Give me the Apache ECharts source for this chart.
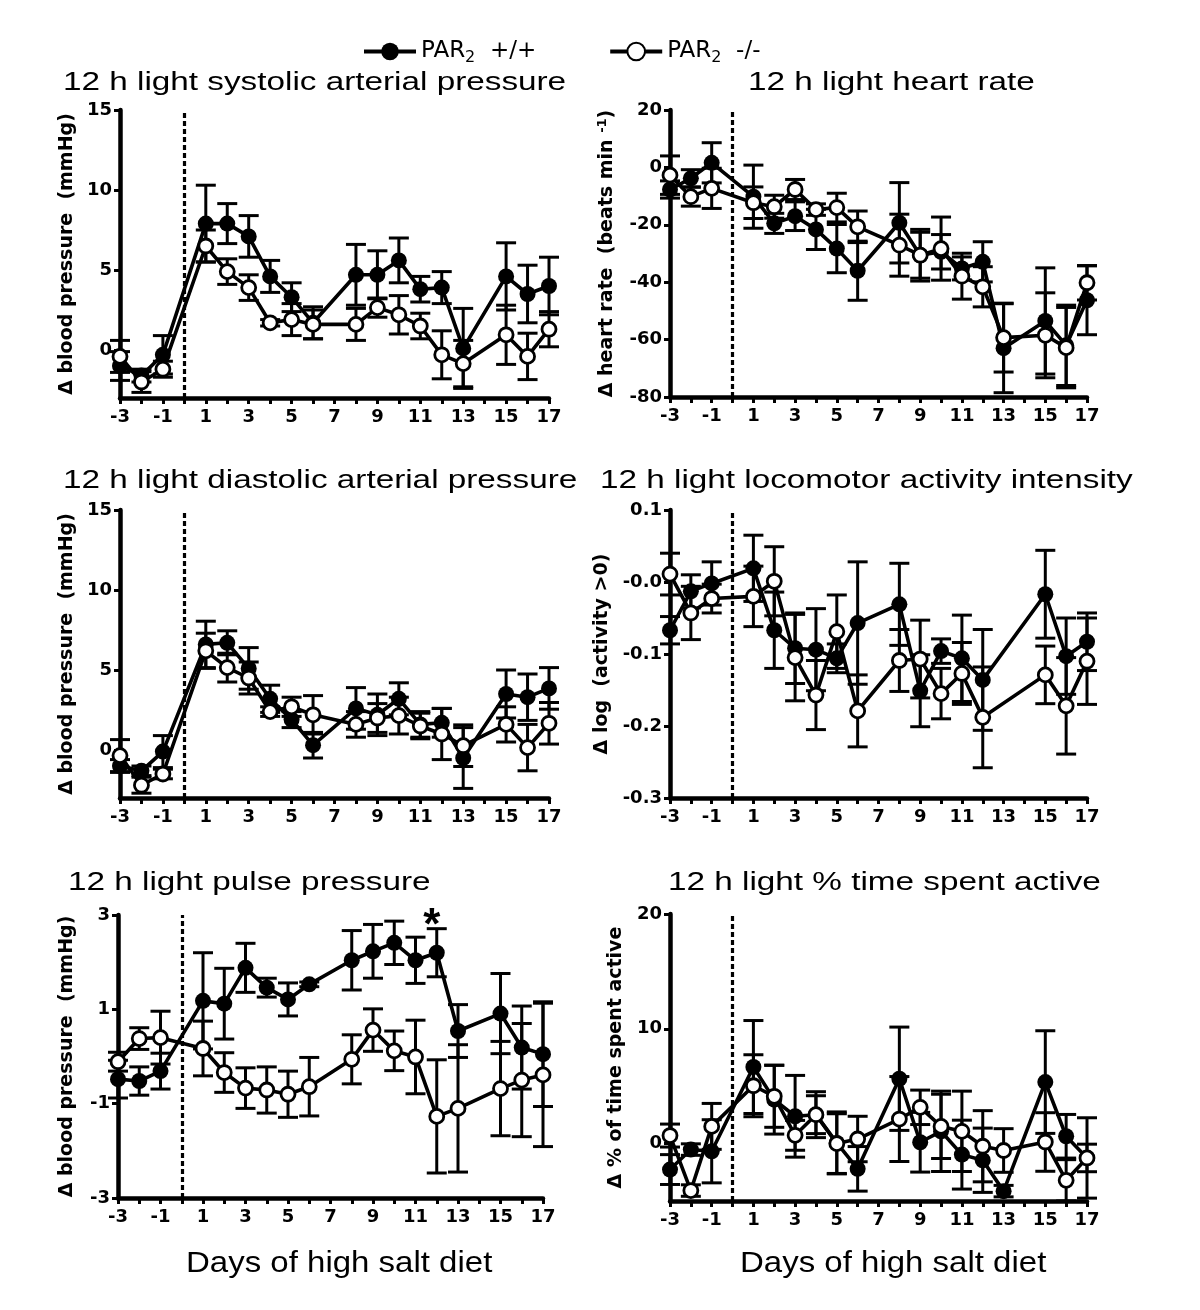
<!DOCTYPE html>
<html><head><meta charset="utf-8">
<script src="https://cdn.jsdelivr.net/npm/echarts@6/dist/echarts.min.js"></script>
<style>html,body{margin:0;padding:0;background:#fff}#c{width:1200px;height:1310px}</style>
</head><body><div id="c"></div>
<script>
// ---------- DATA ----------
const days = [-3,-2,-1,1,2,3,4,5,6,8,9,10,11,12,13,15,16,17];
const xTickStart = -3, xTickEnd = 17;

const sysWT    = [-1.0,-1.6,-0.3,7.9,7.9,7.1,4.6,3.3,1.7,4.7,4.7,5.6,3.8,3.9,0.1,4.6,3.5,4.0];
const sysWTerr = [0.9,0.4,1.2,2.4,1.25,1.3,1.0,0.9,1.0,1.9,1.5,1.4,0.8,1.0,2.5,2.1,1.8,1.8];
const sysKO    = [-0.4,-2.0,-1.2,6.5,4.9,3.9,1.7,1.9,1.6,1.6,2.65,2.2,1.5,-0.3,-0.85,0.95,-0.4,1.3];
const sysKOerr = [1.0,0.65,0.5,1.0,0.8,0.8,0.2,1.0,0.9,1.0,0.6,1.2,0.8,1.5,1.45,1.85,1.45,1.1];

const hrWT    = [-7.7,-3.8,1.6,-10.2,-19.5,-17,-21.6,-28.3,-36,-19.3,-30.6,-29.4,-35.2,-32.9,-63,-53.5,-62,-46.3];
const hrWTerr = [3,3,7,11,3.5,5,7,8.4,10.3,14,8,6,4,7,15.5,18.5,14,12];
const hrKO    = [-2.7,-10.2,-7.3,-12.3,-13.7,-7.7,-14.7,-14,-20.7,-27.1,-30.6,-28.3,-37.9,-41.6,-59.3,-58.5,-62.8,-40.2];
const hrKOerr = [6.7,3.3,7,5.5,4,3.5,2,5,5.5,10.8,9,11,8,7,12,14.8,14,6];

const diaWT    = [-1.0,-1.3,-0.1,6.6,6.7,5.1,3.2,1.9,0.3,2.6,2.2,3.2,1.6,1.7,-0.5,3.5,3.3,3.85];
const diaWTerr = [0.4,0.3,1.0,1.45,0.75,1.3,0.85,0.5,0.8,1.3,1.3,1.0,0.8,0.9,1.9,1.5,1.45,1.3];
const diaKO    = [-0.35,-2.2,-1.5,6.2,5.15,4.5,2.4,2.7,2.2,1.6,2.0,2.15,1.5,1.0,0.27,1.6,0.15,1.67];
const diaKOerr = [1.0,0.5,0.3,1.1,0.9,1.0,0.3,0.6,1.2,0.8,0.9,1.15,0.8,1.6,1.3,1.1,1.45,1.3];

const locWT    = [-0.067,-0.013,-0.002,0.019,-0.067,-0.092,-0.094,-0.106,-0.057,-0.031,-0.151,-0.096,-0.106,-0.136,null,-0.017,-0.103,-0.083];
const locWTerr = [0.019,0.023,0.03,0.046,0.053,0.049,0.057,0.02,0.085,0.057,0.05,0.017,0.06,0.07,null,0.061,0.053,0.04];
const locKO    = [0.011,-0.043,-0.023,-0.020,0.001,-0.105,-0.157,-0.069,-0.179,-0.109,-0.107,-0.155,-0.127,-0.188,null,-0.129,-0.172,-0.110];
const locKOerr = [0.029,0.037,0.02,0.042,0.048,0.06,0.048,0.051,0.05,0.043,0.054,0.035,0.043,0.07,null,0.04,0.067,0.06];

const ppWT    = [-0.48,-0.52,-0.31,1.18,1.12,1.88,1.46,1.21,1.53,2.04,2.23,2.41,2.04,2.2,0.54,0.91,0.19,0.05];
const ppWTerr = [0.4,0.3,0.38,1.02,0.75,0.52,0.2,0.35,0.05,0.63,0.57,0.46,0.49,0.51,0.56,0.85,0.88,1.11];
const ppKO    = [-0.11,0.38,0.40,0.17,-0.34,-0.67,-0.71,-0.8,-0.64,-0.06,0.56,0.12,-0.01,-1.27,-1.1,-0.68,-0.5,-0.39];
const ppKOerr = [0.2,0.23,0.56,0.58,0.42,0.43,0.49,0.49,0.62,0.52,0.45,0.42,0.78,1.2,1.35,1.0,1.2,1.52];
const ppSigDays = [12];

const actWT    = [-2.26,-0.52,-0.67,6.67,3.83,2.38,2.52,0.06,-2.2,5.65,0.12,1.07,-0.96,-1.45,-4.14,5.36,0.64,-1.25];
const actWTerr = [1.3,0.5,2.75,4.05,3.0,3.56,2.0,2.7,1.94,4.5,2.6,3.5,3.0,2.8,0.5,4.47,1.9,1.2];
const actKO    = [0.7,-4.09,1.5,5.04,4.12,0.72,2.52,0,0.4,2.14,3.16,1.5,1.07,-0.23,-0.6,0.14,-3.2,-1.25];
const actKOerr = [1.0,0.5,2.0,2.7,2.7,1.3,1.65,2.6,1.98,3.7,1.5,2.8,3.5,3.1,1.9,2.55,1.8,3.5];

const sysTicks = [0,5,10,15];
const hrTicks = [-80,-60,-40,-20,0,20];
const diaTicks = [0,5,10,15];
const locTicks = [-0.3,-0.2,-0.1,0,0.1];
const locTickLabels = ['-0.3','-0.2','-0.1','-0.0','0.1'];
const ppTicks = [-3,-1,1,3];
const actTicks = [0,10,20];

const seriesNames = ['PAR2 +/+','PAR2 -/-'];
const titles = ['12 h light systolic arterial pressure','12 h light heart rate',
  '12 h light diastolic arterial pressure','12 h light locomotor activity intensity',
  '12 h light pulse pressure','12 h light % time spent active'];
const xAxisTitle = 'Days of high salt diet';
const interventionDay = 0;

// ---------- LAYOUT ----------
const panels = [
  {grid:{left:120,top:110,width:429,height:288}, min:-3,max:15, ticks:sysTicks, wt:sysWT,wte:sysWTerr,ko:sysKO,koe:sysKOerr, name:'Δ blood pressure  (mmHg)', gap:43},
  {grid:{left:670,top:110,width:417,height:287}, min:-80,max:20, ticks:hrTicks, wt:hrWT,wte:hrWTerr,ko:hrKO,koe:hrKOerr, name:'Δ heart rate  (beats min {sup|-1})', gap:51},
  {grid:{left:120,top:510,width:429,height:288}, min:-3,max:15, ticks:diaTicks, wt:diaWT,wte:diaWTerr,ko:diaKO,koe:diaKOerr, name:'Δ blood pressure  (mmHg)', gap:43},
  {grid:{left:670,top:510,width:417,height:288}, min:-0.3,max:0.1, ticks:locTicks, labels:locTickLabels, wt:locWT,wte:locWTerr,ko:locKO,koe:locKOerr, name:'Δ log  (activity >0)', gap:58},
  {grid:{left:118,top:915,width:425,height:283}, min:-3,max:3, ticks:ppTicks, wt:ppWT,wte:ppWTerr,ko:ppKO,koe:ppKOerr, name:'Δ blood pressure  (mmHg)', gap:41, sig:ppSigDays},
  {grid:{left:670,top:914,width:417,height:287}, min:-5,max:20, ticks:actTicks, wt:actWT,wte:actWTerr,ko:actKO,koe:actKOerr, name:'Δ % of time spent active', gap:44}
];
const titlePos = [[63,82.5],[748,82.5],[63,481],[600,481],[68,882.5],[668,882.5]];
const xNamePos = [[186,1264],[740,1264]];

const TICK_FONT = 'DejaVu Sans';
function errRender(params, api){
  const x=api.value(0), y=api.value(1), e=api.value(2);
  const hi=api.coord([x,y+e]), lo=api.coord([x,y-e]);
  const hw=10, st={stroke:'#000', lineWidth:3};
  return {type:'group', children:[
    {type:'line', shape:{x1:hi[0],y1:hi[1],x2:lo[0],y2:lo[1]}, style:st},
    {type:'line', shape:{x1:hi[0]-hw,y1:hi[1],x2:hi[0]+hw,y2:hi[1]}, style:st},
    {type:'line', shape:{x1:lo[0]-hw,y1:lo[1],x2:lo[0]+hw,y2:lo[1]}, style:st}
  ]};
}
const pairs = (vals)=> days.map((d,i)=>[d,vals[i]]).filter(p=>p[1]!=null);
const triples = (vals,errs)=> days.map((d,i)=>[d,vals[i],errs[i]]).filter(p=>p[1]!=null);

const grids=[], xAxes=[], yAxes=[], series=[];
panels.forEach((p,i)=>{
  grids.push(Object.assign({containLabel:false}, p.grid));
  xAxes.push({type:'value', gridIndex:i, min:xTickStart, max:xTickEnd, interval:2,
    axisLine:{onZero:false, lineStyle:{color:'#000',width:4.5}},
    axisTick:{length:6, lineStyle:{color:'#000',width:3}},
    minorTick:{show:true, splitNumber:2, length:6, lineStyle:{color:'#000',width:3}},
    splitLine:{show:false}, minorSplitLine:{show:false},
    axisLabel:{color:'#000', fontFamily:TICK_FONT, fontWeight:'bold', fontSize:18, margin:10}
  });
  yAxes.push({type:'value', gridIndex:i, min:p.min, max:p.max,
    axisLine:{show:true, onZero:false, lineStyle:{color:'#000',width:4.5}},
    axisTick:{show:true, length:6, customValues:p.ticks, lineStyle:{color:'#000',width:3}},
    splitLine:{show:false},
    axisLabel:{color:'#000', fontFamily:TICK_FONT, fontWeight:'bold', fontSize:18, margin:8, customValues:p.ticks,
      formatter:(v)=>{ if(p.labels){const k=p.ticks.findIndex(t=>Math.abs(t-v)<1e-9); return k>=0?p.labels[k]:'';} return String(v);} },
    name:p.name, nameLocation:'middle', nameGap:p.gap,
    nameTextStyle:{color:'#000', fontFamily:TICK_FONT, fontWeight:'bold', fontSize:19,
      rich:{sup:{fontFamily:TICK_FONT, fontWeight:'bold', fontSize:13, padding:[0,0,10,0]}}}
  });
  series.push({type:'custom', xAxisIndex:i, yAxisIndex:i, renderItem:errRender, encode:{x:0,y:1}, data:triples(p.wt,p.wte), z:2, silent:true, clip:false});
  series.push({type:'line', name:seriesNames[0], xAxisIndex:i, yAxisIndex:i, data:pairs(p.wt), z:3,
    symbol:'circle', symbolSize:16, showSymbol:true,
    lineStyle:{color:'#000', width:3.6}, itemStyle:{color:'#000', borderColor:'#000', borderWidth:0},
    markLine:{silent:true, symbol:'none', label:{show:false}, animation:false,
      lineStyle:{color:'#000', width:3.2, type:[5,3]}, data:[{xAxis:interventionDay}]}
  });
  series.push({type:'custom', xAxisIndex:i, yAxisIndex:i, renderItem:errRender, encode:{x:0,y:1}, data:triples(p.ko,p.koe), z:4, silent:true, clip:false});
  series.push({type:'line', name:seriesNames[1], xAxisIndex:i, yAxisIndex:i, data:pairs(p.ko), z:5,
    symbol:'circle', symbolSize:14, showSymbol:true,
    lineStyle:{color:'#000', width:3.6}, itemStyle:{color:'#fff', borderColor:'#000', borderWidth:2.8}
  });
  if(p.sig){
    series.push({type:'scatter', xAxisIndex:i, yAxisIndex:i, z:6, silent:true,
      symbol:'circle', symbolSize:0, itemStyle:{color:'#000'},
      data:p.sig.map(d=>{const k=days.indexOf(d); return [d, p.wt[k]+p.wte[k]+0.1];}),
      label:{show:true, position:'inside', formatter:'*', color:'#000', opacity:1, fontSize:44, fontWeight:'bold', fontFamily:'Liberation Sans', offset:[-5,3]}
    });
  }
});

const graphics = [];
titles.forEach((t,i)=>{
  graphics.push({type:'text', x:titlePos[i][0], y:titlePos[i][1], scaleX:1.28, silent:true,
    style:{text:t, fill:'#000', font:'26px "Liberation Sans"', textAlign:'left', textVerticalAlign:'middle'}});
});
xNamePos.forEach(pos=>{
  graphics.push({type:'text', x:pos[0], y:pos[1], scaleX:1.1, silent:true,
    style:{text:xAxisTitle, fill:'#000', font:'30px "Liberation Sans"', textAlign:'left', textVerticalAlign:'middle'}});
});

const chart = echarts.init(document.getElementById('c'), null, {renderer:'canvas'});
chart.setOption({
  animation:false,
  backgroundColor:'#fff',
  legend:{data:seriesNames, left:357, top:35, itemWidth:52, itemHeight:22, itemGap:72, selectedMode:false,
    lineStyle:{width:4},
    formatter:(n)=>n.replace('PAR2','PAR{sub|2} '),
    textStyle:{color:'#000', fontFamily:'DejaVu Sans', fontSize:23,
      rich:{sub:{fontFamily:'DejaVu Sans', fontSize:16, padding:[12,0,0,0]}}}},
  grid:grids, xAxis:xAxes, yAxis:yAxes, series:series, graphic:graphics
});
</script></body></html>
